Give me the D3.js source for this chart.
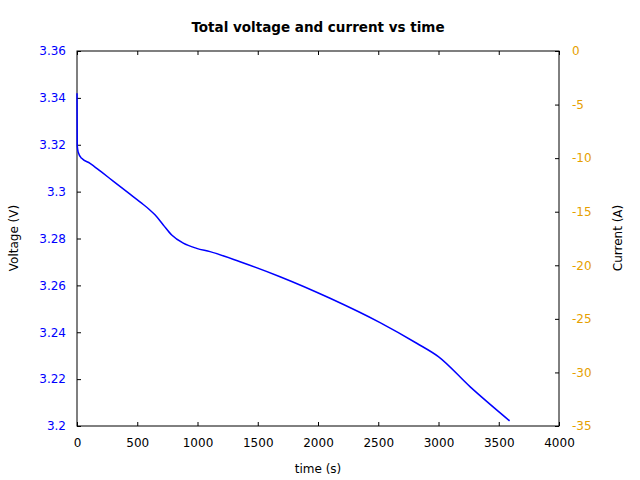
<!DOCTYPE html>
<html>
<head>
<meta charset="utf-8">
<script src="https://cdn.jsdelivr.net/npm/d3@7"></script>
<style>
  body { margin: 0; background: #fff; }
  text { font-family: "DejaVu Sans", sans-serif; }
</style>
</head>
<body>
<svg width="640" height="480" id="mainsvg"></svg>
<script>
    // values
    let timeS   = [0, 2, 10, 39, 108, 200, 300, 440, 550, 600, 647, 716, 786, 882, 993, 1104, 1353, 1685, 2100, 2515, 2819, 2999, 3261, 3590];
    let voltage = [3.342, 3.3195, 3.3168, 3.3142, 3.3121, 3.3085, 3.3045, 3.2989, 3.2945, 3.2924, 3.2901, 3.2858, 3.2815, 3.2780, 3.2758, 3.2744, 3.2701, 3.2637, 3.2545, 3.2441, 3.2353, 3.2296, 3.2168, 3.2022];
    let xTicks = [0, 500, 1000, 1500, 2000, 2500, 3000, 3500, 4000];
    let vTicks = [3.2, 3.22, 3.24, 3.26, 3.28, 3.3, 3.32, 3.34, 3.36];
    let iTicks = [0, -5, -10, -15, -20, -25, -30, -35];

    let svg = d3.select('#mainsvg');
    let plotL = 77, plotR = 559, plotT = 51, plotB = 426;
    let tickLen = 4;

    let x = d3.scaleLinear().domain([0, 4000]).range([plotL, plotR]);
    let yV = d3.scaleLinear().domain([3.2, 3.36]).range([plotB, plotT]);
    let yI = d3.scaleLinear().domain([-35, 0]).range([plotB, plotT]);

    let plain = d => String(+d.toFixed(2));

    // bottom axis, ticks pointing inward
    let gx = svg.append('g').attr('transform', `translate(0,${plotB})`)
        .call(d3.axisBottom(x).tickValues(xTicks).tickSizeInner(-tickLen).tickSizeOuter(0).tickPadding(12).tickFormat(plain));
    // top mirror
    let gxt = svg.append('g').attr('transform', `translate(0,${plotT})`)
        .call(d3.axisTop(x).tickValues(xTicks).tickSizeInner(-tickLen).tickSizeOuter(0).tickFormat(''));
    // left voltage
    let gy = svg.append('g').attr('transform', `translate(${plotL},0)`)
        .call(d3.axisLeft(yV).tickValues(vTicks).tickSizeInner(-tickLen).tickSizeOuter(0).tickPadding(11).tickFormat(plain));
    // right current
    let gyr = svg.append('g').attr('transform', `translate(${plotR},0)`)
        .call(d3.axisRight(yI).tickValues(iTicks).tickSizeInner(-tickLen).tickSizeOuter(0).tickPadding(13).tickFormat(plain));

    [gx, gxt, gy, gyr].forEach(g => {
        g.select('.domain').remove();
        g.selectAll('.tick line').attr('stroke', '#000');
        g.selectAll('text').attr('font-size', 12).attr('font-family', '"DejaVu Sans", sans-serif');
    });
    gx.selectAll('text').attr('fill', '#000');
    gy.selectAll('text').attr('fill', '#0000ff');
    gyr.selectAll('text').attr('fill', '#e69f00');

    // frame
    svg.append('rect')
        .attr('x', plotL).attr('y', plotT)
        .attr('width', plotR - plotL).attr('height', plotB - plotT)
        .attr('fill', 'none').attr('stroke', '#000').attr('stroke-width', 1);

    // voltage line
    let pts = timeS.map((t, i) => [t, voltage[i]]);
    let line = d3.line().x(d => x(d[0])).y(d => yV(d[1])).curve(d3.curveMonotoneX);
    svg.append('path')
        .attr('d', line(pts))
        .attr('fill', 'none')
        .attr('stroke', '#0000ff')
        .attr('stroke-width', 1.5);

    // title and labels
    svg.append('text').attr('x', 318).attr('y', 32).attr('text-anchor', 'middle')
        .attr('font-size', 13.5).attr('font-weight', 'bold').text('Total voltage and current vs time');
    svg.append('text').attr('x', 318).attr('y', 473).attr('text-anchor', 'middle')
        .attr('font-size', 12).text('time (s)');
    svg.append('text').attr('transform', 'translate(18,238) rotate(-90)').attr('text-anchor', 'middle')
        .attr('font-size', 12).text('Voltage (V)');
    svg.append('text').attr('transform', 'translate(622,238) rotate(-90)').attr('text-anchor', 'middle')
        .attr('font-size', 12).text('Current (A)');
</script>
</body>
</html>
